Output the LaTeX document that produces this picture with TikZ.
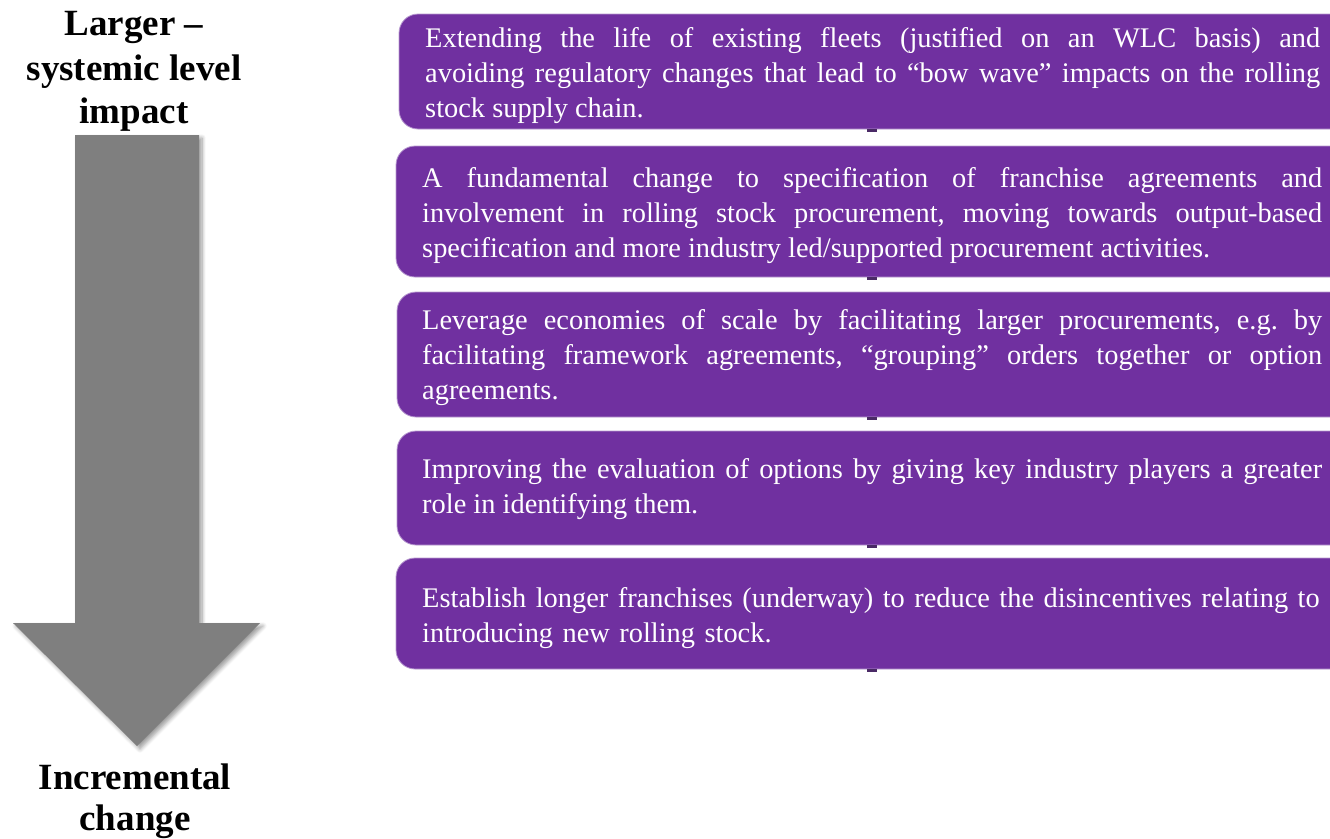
\documentclass[tikz,border=0pt]{standalone}
\usepackage{fontspec}
\setmainfont{Liberation Serif}
\usetikzlibrary{shadows.blur}
\definecolor{boxpurple}{HTML}{7030A0}
\definecolor{boxedge}{HTML}{B89AD0}
\definecolor{stubcol}{HTML}{4A2A66}
\definecolor{arrowgray}{HTML}{7F7F7F}
\frenchspacing
\tikzset{
  x=1pt, y=-1pt,
  pbox/.style={fill=boxpurple, draw=boxedge, line width=0.8pt, rounded corners=19pt},
  ptext/.style={anchor=north west, inner sep=0pt, text width=900pt, align=justify, text=white,
     font=\fontsize{28.4}{35}\selectfont\frenchspacing},
  headlbl/.style={inner sep=0pt, align=center, font=\fontsize{37}{44}\selectfont\bfseries},
  stub/.style={fill=stubcol, draw=none},
}
\begin{document}
\begin{tikzpicture}
\useasboundingbox (0,0) rectangle (1330,838);
\clip (0,0) rectangle (1330,838);

% big arrow
\path[fill=arrowgray, blur shadow={shadow xshift=3pt, shadow yshift=-3pt, shadow blur steps=8, shadow blur radius=4pt, shadow opacity=40}]
  (75,135) -- (199,135) -- (199,623) -- (260,623) -- (137,746) -- (13,623) -- (75,623) -- cycle;

% labels
\node[headlbl, anchor=base] (top1) at (134,35) {Larger --};
\node[headlbl, anchor=base] (top2) at (134,80) {systemic level};
\node[headlbl, anchor=base] (top3) at (134,123) {impact};
\node[headlbl, anchor=base] (bot1) at (135,789) {Incremental};
\node[headlbl, anchor=base] (bot2) at (135,830) {change};

% boxes
\path[pbox] (399,14) rectangle (1350,129);
\path[pbox] (396,146) rectangle (1350,277);
\path[pbox] (397,292) rectangle (1350,417);
\path[pbox] (397,431) rectangle (1350,545);
\path[pbox] (396,558) rectangle (1350,669);

\path[stub] (867,129) rectangle (877,132);
\path[stub] (867,277) rectangle (877,280);
\path[stub] (867,417) rectangle (877,420);
\path[stub] (867,545) rectangle (877,548);
\path[stub] (867,669) rectangle (877,672);

\node[ptext, text width=895pt] (t1) at (425,{47-24.5}) {\strut Extending the life of existing fleets (justified on an WLC basis) and\linebreak
avoiding regulatory changes that lead to ``bow wave'' impacts on the rolling\linebreak
stock supply chain.};
\node[ptext] (t2) at (422,{187-24.5}) {\strut A fundamental change to specification of franchise agreements and\linebreak
involvement in rolling stock procurement, moving towards output-based\linebreak
specification and more industry led/supported procurement activities.};
\node[ptext] (t3) at (422,{329-24.5}) {\strut Leverage economies of scale by facilitating larger procurements, e.g. by\linebreak
facilitating framework agreements, ``grouping'' orders together or option\linebreak
agreements.};
\node[ptext] (t4) at (422,{478-24.5}) {\strut Improving the evaluation of options by giving key industry players a greater\linebreak
role in identifying them.};
\node[ptext, align=left, text width=905pt] (t5) at (422,{607-24.5}) {\strut Establish longer franchises (underway) to reduce the disincentives relating to\\
introducing new rolling stock.};
\end{tikzpicture}
\end{document}
